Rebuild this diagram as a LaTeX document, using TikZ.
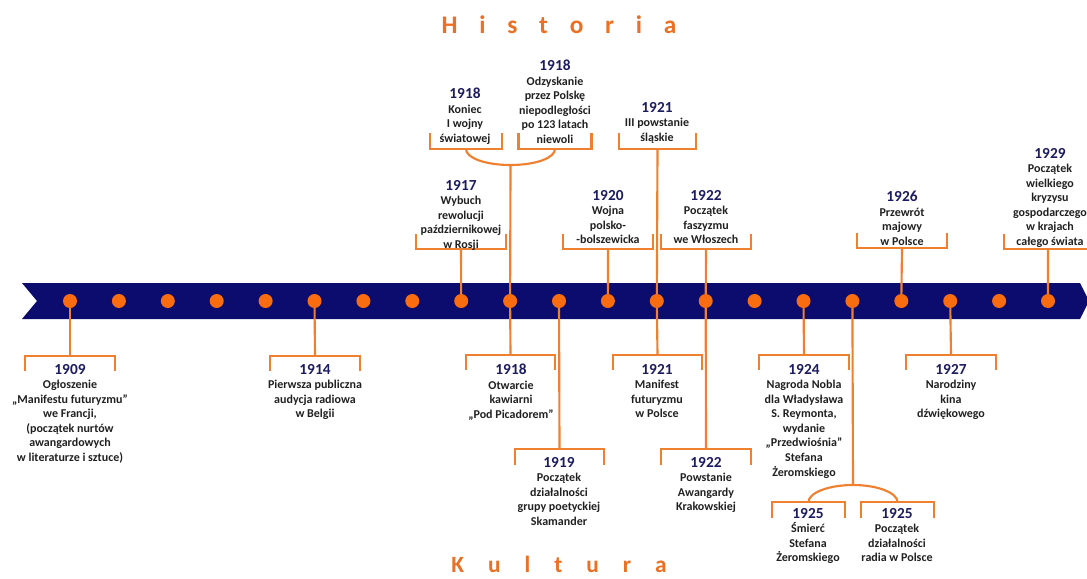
\documentclass[tikz,border=0pt]{standalone}
\usepackage{fontspec}
\setmainfont{Carlito}
\definecolor{bandBlue}{RGB}{12,12,110}
\definecolor{dotOrange}{RGB}{250,108,16}
\definecolor{lineOrange}{RGB}{238,128,48}
\definecolor{titleOrange}{RGB}{236,112,36}
\definecolor{yearBlue}{RGB}{28,28,96}
\definecolor{txtGray}{RGB}{32,32,32}
\newcommand{\evYear}[1]{{\color{yearBlue}\fontsize{11.5}{10.9}\selectfont #1}}
\tikzset{
	tlDot/.style={
		circle,
		fill=dotOrange,
		minimum size=10.5pt,
		inner sep=0pt
	},
	brk/.style={
		draw=lineOrange,
		line width=1.6pt
	},
	link/.style={
		draw=lineOrange,
		line width=1.6pt
	},
	ev/.style={
		align=center,
		inner sep=0pt,
		anchor=north,
		font=\fontsize{9}{10.9}\selectfont\bfseries,
		text=txtGray
	},
	bigTitle/.style={
		text=titleOrange,
		inner sep=0pt,
		font=\fontsize{19}{20}\selectfont\bfseries
	},
}

\begin{document}
\begin{tikzpicture}[x=0.75pt, y=-0.75pt]
\useasboundingbox (0,0) rectangle (1087,578);
% band
\fill[bandBlue] (22,283) -- (1080,283) -- (1089,301) -- (1080,319) -- (22,319) -- (37,301) -- cycle;
\foreach \i in {0,...,20}
	\coordinate (p\i) at ({70+48.9*\i},301);
% brackets: name/x/y/half width/arm
\foreach \nm/\x/\y/\w/\a in {
	1917/461/249/45/-15, 1918a/466/149/36/-16, 1918b/555/149/36.5/-16,
	1920/608/249/45/-15, 1921/657.5/149/38.5/-16, 1922/706/249/45/-15,
	1926/902/248/45/-15, 1929/1048/249/44/-15,
	1909/70/356/45/15, 1914/315/356/45/15, 1918c/510.5/355/44.5/15,
	1919/559.5/449/44.5/16, 1921m/657.5/355/44.5/15, 1922p/706/449/45/16,
	1924/804/355/45/15, 1925a/808.5/502/36.5/16, 1925b/897.5/502/36.5/16,
	1927/951/355/45/15}
{
	\coordinate (k\nm) at (\x,\y);
	\draw[brk] ({\x-\w},{\y+\a}) |- ({\x+\w},\y) -- ({\x+\w},{\y+\a});
}
% joined brackets
\coordinate (jTop) at (510.5,165);
\coordinate (jBot) at (853,485);
\draw[brk] (k1918a) .. controls +(0,9) and +(-25,0) .. (jTop) .. controls +(25,0) and +(0,9) .. (k1918b);
\draw[brk] (k1925a) .. controls +(0,-9) and +(-25,0) .. (jBot) .. controls +(25,0) and +(0,-9) .. (k1925b);
% links to the band
\draw[link] (p0) -- (k1909);
\draw[link] (p5) -- (k1914);
\draw[link] (k1917) -- (p8);
\draw[link] (jTop) -- (p9) -- (k1918c);
\draw[link] (p10) -- (k1919);
\draw[link] (k1920) -- (p11);
\draw[link] (k1921) -- (p12) -- (k1921m);
\draw[link] (k1922) -- (p13) -- (k1922p);
\draw[link] (p15) -- (k1924);
\draw[link] (p16) -- (jBot);
\draw[link] (k1926) -- (p17);
\draw[link] (p18) -- (k1927);
\draw[link] (k1929) -- (p20);
\foreach \i in {0,...,20}
	\node[tlDot] (d\i) at (p\i) {};
% Historia
\node[bigTitle] (hist) at (559,25) {\spaceskip=16.3pt H i s t o r i a};
\node[ev] (e1917) at (461,180) {\evYear{1917}\\Wybuch\\rewolucji\\październikowej\\w Rosji};
\node[ev] (e1918a) at (465,88) {\evYear{1918}\\Koniec\\I wojny\\światowej};
\node[ev] (e1918b) at (555,60) {\evYear{1918}\\Odzyskanie\\przez Polskę\\niepodległości\\po 123 latach\\niewoli};
\node[ev] (e1920) at (608,190) {\evYear{1920}\\Wojna\\polsko-\\-bolszewicka};
\node[ev] (e1921) at (657,102) {\evYear{1921}\\III powstanie\\śląskie};
\node[ev] (e1922) at (706,190) {\evYear{1922}\\Początek\\faszyzmu\\we Włoszech};
\node[ev] (e1926) at (902,191) {\evYear{1926}\\Przewrót\\majowy\\w Polsce};
\node[ev] (e1929) at (1050,148) {\evYear{1929}\\Początek\\wielkiego\\kryzysu\\gospodarczego\\w krajach\\całego świata};
% Kultura
\node[ev] (e1909) at (70,364) {\evYear{1909}\\Ogłoszenie\\„Manifestu futuryzmu”\\we Francji,\\(początek nurtów\\awangardowych\\w literaturze i sztuce)};
\node[ev] (e1914) at (315,364) {\evYear{1914}\\Pierwsza publiczna\\audycja radiowa\\w Belgii};
\node[ev] (e1918c) at (511,364) {\evYear{1918}\\Otwarcie\\kawiarni\\„Pod Picadorem”};
\node[ev] (e1919) at (559,457) {\evYear{1919}\\Początek\\działalności\\grupy poetyckiej\\Skamander};
\node[ev] (e1921m) at (657,364) {\evYear{1921}\\Manifest\\futuryzmu\\w Polsce};
\node[ev] (e1922p) at (706,457) {\evYear{1922}\\Powstanie\\Awangardy\\Krakowskiej};
\node[ev] (e1924) at (804,364) {\evYear{1924}\\Nagroda Nobla\\dla Władysława\\S. Reymonta,\\wydanie\\„Przedwiośnia”\\Stefana\\Żeromskiego};
\node[ev] (e1925a) at (808,508) {\evYear{1925}\\Śmierć\\Stefana\\Żeromskiego};
\node[ev] (e1925b) at (897,508) {\evYear{1925}\\Początek\\działalności\\radia w Polsce};
\node[ev] (e1927) at (951,364) {\evYear{1927}\\Narodziny\\kina\\dźwiękowego};
\node[bigTitle, font=\fontsize{17.5}{19}\selectfont\bfseries] (kult) at (559,564) {\spaceskip=18pt K u l t u r a};
\end{tikzpicture}
\end{document}
